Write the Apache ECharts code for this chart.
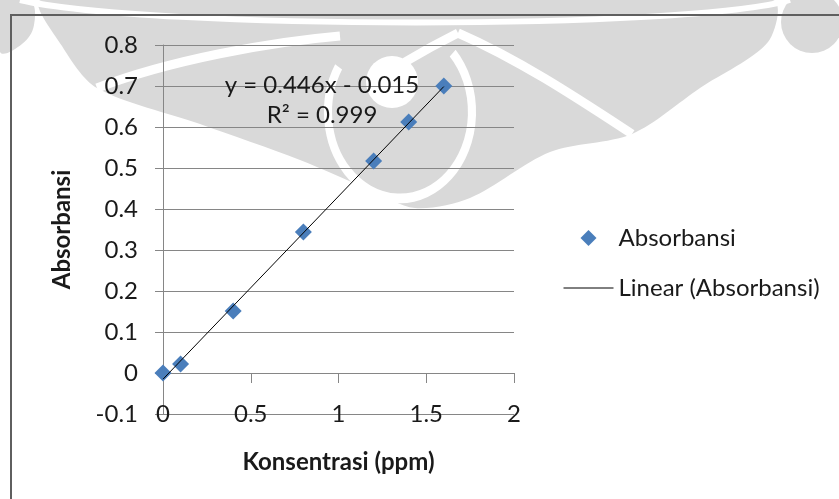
<!DOCTYPE html>
<html>
<head>
<meta charset="utf-8">
<script src="https://cdn.jsdelivr.net/npm/echarts@6/dist/echarts.min.js"></script>
<style>
  html, body { margin: 0; padding: 0; background: #fff; }
  #chart { width: 839px; height: 499px; }
</style>
</head>
<body>
<div id="chart"></div>
<script>
// data
var konsentrasi = [0, 0.1, 0.4, 0.8, 1.2, 1.4, 1.6];
var absorbansi = [0, 0.022, 0.151, 0.344, 0.517, 0.612, 0.700];
var slope = 0.446;
var intercept = -0.015;
var trendRange = [0, 1.6];
var xTicks = [0, 0.5, 1, 1.5, 2];
var yTicks = [-0.1, 0, 0.1, 0.2, 0.3, 0.4, 0.5, 0.6, 0.7, 0.8];

var font = 'Lato, "Open Sans", sans-serif';
var textColor = '#1a1a1a';
var axisGrey = '#868686';
var markGrey = '#d9d9d9';

var scatterData = konsentrasi.map(function (x, i) { return [x, absorbansi[i]]; });
var trendData = trendRange.map(function (x) { return [x, slope * x + intercept]; });

// rough copy of the faint watermark behind the chart
var watermark = [
    { type: 'polygon', shape: { points: [[0, 0], [30, 0], [34, 25], [22, 44], [0, 52]], smooth: 0.4 } },
    { type: 'circle', shape: { cx: 812, cy: 22, r: 31 } },
    {
        type: 'polygon',
        shape: {
            points: [[42, 0], [772, 0], [768, 42], [700, 88], [632, 134], [550, 152], [470, 198],
                [415, 208], [370, 190], [300, 160], [200, 124], [97, 88], [62, 46]],
            smooth: 0.3
        }
    },
    {
        type: 'bezierCurve',
        shape: { x1: 97, y1: 88, cpx1: 170, cpy1: 60, cpx2: 270, cpy2: 42, x2: 340, y2: 36 },
        style: { stroke: '#fff', lineWidth: 9, fill: null }
    },
    {
        type: 'bezierCurve',
        shape: { x1: 458, y1: 33, cpx1: 520, cpy1: 60, cpx2: 580, cpy2: 100, x2: 632, y2: 134 },
        style: { stroke: '#fff', lineWidth: 9, fill: null }
    },
    {
        type: 'bezierCurve',
        shape: { x1: 20, y1: 0, cpx1: 150, cpy1: 30, cpx2: 690, cpy2: 30, x2: 790, y2: 0 },
        style: { stroke: '#fff', lineWidth: 6, fill: null }
    },
    {
        type: 'arc',
        x: 400, y: 112, scaleX: 0.9, scaleY: 1.08,
        shape: { cx: 0, cy: 0, r: 80, startAngle: -0.75, endAngle: Math.PI + 0.55, clockwise: true },
        style: { stroke: '#fff', lineWidth: 9, fill: null }
    },
    {
        type: 'circle',
        shape: { cx: 392, cy: 82, r: 26 },
        style: { fill: '#fff' }
    },
    {
        type: 'bezierCurve',
        shape: { x1: 405, y1: 62, cpx1: 425, cpy1: 50, cpx2: 440, cpy2: 42, x2: 458, y2: 33 },
        style: { stroke: '#fff', lineWidth: 9, fill: null }
    }
];
watermark.forEach(function (g) {
    g.silent = true;
    g.z = -10;
    g.style = g.style || { fill: markGrey };
});

var myChart = echarts.init(document.getElementById('chart'));

var option = {
    backgroundColor: '#fff',
    animation: false,
    textStyle: { fontFamily: font, color: textColor },
    grid: {
        left: 163,
        top: 45,
        right: 325,
        bottom: 85
    },
    legend: {
        orient: 'vertical',
        left: 563,
        top: 226,
        padding: 0,
        itemWidth: 50,
        itemHeight: 16,
        itemGap: 26,
        symbolKeepAspect: true,
        textStyle: { fontFamily: font, fontSize: 24, color: textColor },
        data: [
            { name: 'Absorbansi', icon: 'path://M8,0L16,8L8,16L0,8Z' },
            {
                name: 'Linear (Absorbansi)',
                itemStyle: { color: 'rgba(0,0,0,0)', borderWidth: 0 },
                lineStyle: { color: '#000', width: 1 }
            }
        ]
    },
    xAxis: [
        {
            type: 'value',
            min: xTicks[0],
            max: xTicks[xTicks.length - 1],
            interval: 0.5,
            axisLine: { onZero: true, lineStyle: { color: axisGrey, width: 1 } },
            axisTick: { show: true, length: 10, lineStyle: { color: axisGrey } },
            axisLabel: { show: false },
            splitLine: { show: false }
        },
        {
            type: 'value',
            position: 'bottom',
            min: xTicks[0],
            max: xTicks[xTicks.length - 1],
            interval: 0.5,
            axisLine: { show: false, onZero: false },
            axisTick: { show: false },
            splitLine: { show: false },
            axisLabel: {
                margin: 0,
                verticalAlign: 'middle',
                fontFamily: font,
                fontSize: 24,
                color: textColor
            },
            name: 'Konsentrasi (ppm)',
            nameLocation: 'middle',
            nameGap: 36,
            nameTextStyle: { fontFamily: font, fontSize: 24, fontWeight: 'bold', color: textColor }
        }
    ],
    yAxis: {
        type: 'value',
        min: yTicks[0],
        max: yTicks[yTicks.length - 1],
        interval: 0.1,
        axisLine: { show: true, onZero: true, lineStyle: { color: axisGrey, width: 1 } },
        axisTick: { show: true, length: 8, lineStyle: { color: axisGrey } },
        axisLabel: {
            margin: 25,
            fontFamily: font,
            fontSize: 24,
            color: textColor,
            formatter: function (v) { return String(+v.toFixed(1)); }
        },
        splitLine: { show: true, lineStyle: { color: axisGrey, width: 1 } },
        name: 'Absorbansi',
        nameLocation: 'middle',
        nameGap: 89,
        nameTextStyle: { fontFamily: font, fontSize: 24, fontWeight: 'bold', color: textColor }
    },
    series: [
        {
            name: 'Absorbansi',
            type: 'scatter',
            symbol: 'diamond',
            symbolSize: 17,
            itemStyle: { color: '#4A7EBB', opacity: 1 },
            data: scatterData,
            z: 2
        },
        {
            name: 'Linear (Absorbansi)',
            type: 'line',
            symbol: 'none',
            itemStyle: { color: '#000' },
            lineStyle: { color: '#000', width: 1 },
            data: trendData,
            z: 3
        }
    ],
    graphic: watermark.concat([
        {
            type: 'text',
            x: 322, y: 85,
            style: {
                text: 'y = 0.446x - 0.015',
                fontFamily: font, fontSize: 24, fill: textColor,
                align: 'center', verticalAlign: 'middle'
            },
            z: 10
        },
        {
            type: 'text',
            x: 322, y: 115,
            style: {
                text: 'R² = 0.999',
                fontFamily: font, fontSize: 24, fill: textColor,
                align: 'center', verticalAlign: 'middle'
            },
            z: 10
        },
        {
            type: 'polyline',
            shape: { points: [[11, 499], [11, 15], [839, 15]] },
            style: { stroke: '#5f5f5f', lineWidth: 2, fill: null },
            z: 10
        }
    ])
};

myChart.setOption(option);
</script>
</body>
</html>
